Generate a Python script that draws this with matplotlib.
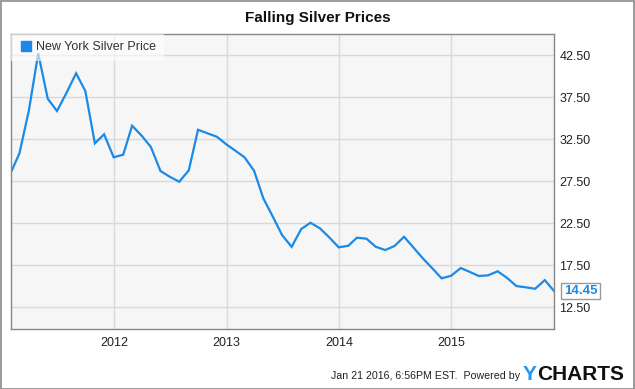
import matplotlib
matplotlib.use("Agg")
import matplotlib.pyplot as plt
import pandas as pd
from matplotlib.patches import Rectangle

# ---- data ----
dates = pd.date_range("2011-01-31", periods=59, freq="ME")
prices = [28.53, 30.83, 35.99, 42.74, 37.33, 35.87, 38.05, 40.36, 38.25, 32.02,
          33.10, 30.36, 30.67, 34.12, 32.93, 31.58, 28.73, 28.05, 27.45, 28.81,
          33.64, 33.21, 32.81, 31.90, 31.10, 30.36, 28.76, 25.48, 23.29, 21.10,
          19.70, 21.82, 22.57, 21.90, 20.83, 19.64, 19.83, 20.79, 20.67, 19.71,
          19.32, 19.80, 20.90, 19.60, 18.33, 17.14, 15.95, 16.26, 17.18, 16.74,
          16.23, 16.31, 16.79, 16.02, 15.03, 14.88, 14.71, 15.74, 14.45]
series_name = "New York Silver Price"
title = "Falling Silver Prices"
y_ticks = [12.5, 17.5, 22.5, 27.5, 32.5, 37.5, 42.5]
x_tick_years = [2012, 2013, 2014, 2015]
last_label = "14.45"
footer = "Jan 21 2016, 6:56PM EST.  Powered by"

plt.rcParams["font.family"] = ["Liberation Sans", "DejaVu Sans"]

W, H = 635, 389
fig = plt.figure(figsize=(W / 100, H / 100), dpi=100)
fig.patch.set_facecolor("white")

# outer border
fig.add_artist(Rectangle((0.5 / W, 0.5 / H), 1 - 1.5 / W, 1 - 1.5 / H,
                         transform=fig.transFigure, fill=False,
                         edgecolor="#8a8a8a", linewidth=1.2))

ax = fig.add_axes([10.5 / W, 1 - 329 / H, (554 - 10.5) / W, (329 - 33.5) / H])
ax.set_facecolor("#f6f6f6")

line_color = "#1a8ae6"
ax.plot(dates, prices, color=line_color, linewidth=1.6, label=series_name,
        solid_joinstyle="miter")

ax.set_xlim(dates[0] - pd.Timedelta(days=1), dates[-1])
ax.set_ylim(9.92, 45.1)

ax.yaxis.tick_right()
ax.set_yticks(y_ticks)
ax.set_yticklabels([f"{v:.2f}" for v in y_ticks])
ax.set_xticks([pd.Timestamp(f"{y}-01-01") for y in x_tick_years])
ax.set_xticklabels([str(y) for y in x_tick_years])
ax.tick_params(axis="both", length=0, labelsize=9, colors="#222222")
ax.tick_params(axis="y", pad=4)
ax.tick_params(axis="x", pad=6)

ax.grid(True, color="#d9d9d9", linewidth=1)
ax.set_axisbelow(True)
for s in ax.spines.values():
    s.set_color("#888888")
    s.set_linewidth(1)

# legend
leg = ax.legend(loc="upper left", handles=[plt.Line2D([], [], marker="s", linestyle="none",
                markersize=6.5, color=line_color)], labels=[series_name],
                frameon=True, fancybox=False, fontsize=9, handletextpad=0.15,
                borderaxespad=0.0, borderpad=0.6, handlelength=1.3)
leg.get_frame().set_facecolor("white")
leg.get_frame().set_alpha(0.6)
leg.get_frame().set_edgecolor("none")
for t in leg.get_texts():
    t.set_color("#333333")

# last value label
ax.annotate(last_label, xy=(dates[-1], prices[-1]), xytext=(7, 0),
            textcoords="offset points", ha="left", va="center",
            fontsize=9.5, fontweight="bold", color=line_color,
            bbox=dict(boxstyle="square,pad=0.18", facecolor="white",
                      edgecolor="#999999", linewidth=1),
            annotation_clip=False, zorder=5)

# title
fig.text(0.5, 1 - 18 / H, title, ha="center", va="center",
         fontsize=11, fontweight="bold", color="#111111")

# footer
fig.text(520 / W, 1 - 376 / H, footer, ha="right", va="center",
         fontsize=7.7, color="#222222")
fig.text(523 / W, 1 - 374 / H, "Y", ha="left", va="center",
         fontsize=15, fontweight="bold", color="#2196f3")
fig.text(537 / W, 1 - 374 / H, "CHARTS", ha="left", va="center",
         fontsize=15, fontweight="bold", color="#111111")

fig.savefig("out.png", dpi=100, facecolor="white")
